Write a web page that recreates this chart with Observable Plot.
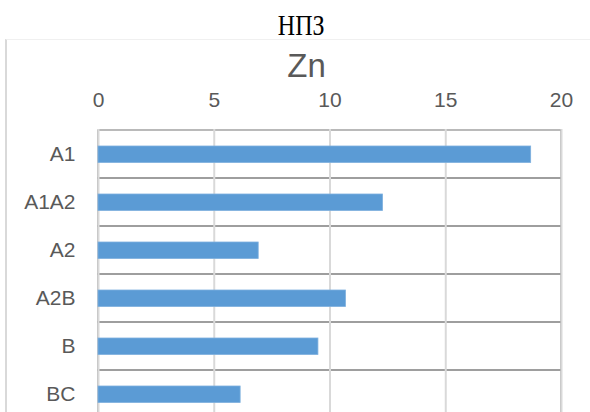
<!DOCTYPE html>
<html>
<head>
<meta charset="utf-8">
<script src="https://cdn.jsdelivr.net/npm/d3@7"></script>
<script src="https://cdn.jsdelivr.net/npm/@observablehq/plot@0.6"></script>
<style>
  html, body { margin: 0; padding: 0; background: #fff; }
  body { width: 590px; height: 412px; overflow: hidden; position: relative; }
  #frame { position: absolute; left: 5px; top: 39px; width: 585px; height: 400px;
           border-left: 2px solid #d9d9d9; border-top: 1px solid #f0f0f0; box-sizing: border-box; }
  #t1 { position: absolute; top: 10px; left: 0; width: 602px; text-align: center;
        font-family: "Liberation Serif", "DejaVu Serif", serif; font-size: 30px; line-height: 30px; color: #000; }
  #t1 span { display: inline-block; transform: scaleX(0.8); }
  #t2 { position: absolute; top: 49px; left: 0; width: 613px; text-align: center;
        font-family: "Liberation Sans", Arial, sans-serif; font-size: 33px; line-height: 33px; color: #595959; }
  #chart { position: absolute; left: 0; top: 0; }
</style>
</head>
<body>
<div id="chart"></div>
<div id="frame"></div>
<div id="t1"><span>НПЗ</span></div>
<div id="t2">Zn</div>
<script>
const categories = ["A1", "A1A2", "A2", "A2B", "B", "BC"];
const values = [18.69, 12.29, 6.92, 10.69, 9.50, 6.14];
const xTicks = [0, 5, 10, 15, 20];

const data = categories.map((c, i) => ({category: c, value: values[i]}));

const plot = Plot.plot({
  width: 590,
  height: 419,
  marginLeft: 98,
  marginRight: 29,
  marginTop: 129,
  marginBottom: 0,
  style: {fontFamily: "'Liberation Sans', Arial, sans-serif", background: "transparent"},
  x: {domain: [0, 20], label: null},
  y: {domain: categories, padding: 0, label: null},
  marks: [
    Plot.barX(categories, {y: d => d, x1: 0, x2: 20, fill: "none", stroke: "#8c8c8c", strokeWidth: 1.2}),
    Plot.gridX(xTicks, {stroke: "#d9d9d9", strokeOpacity: 1, strokeWidth: 2}),
    Plot.barX(data, {y: "category", x: "value", fill: "#5b9bd5", stroke: "#7eb0de", strokeWidth: 0.8, insetTop: 16, insetBottom: 15.5}),
    Plot.axisX(xTicks, {anchor: "top", tickSize: 0, tickPadding: 23, fontSize: 21, fill: "#595959", label: null}),
    Plot.axisY({anchor: "left", tickSize: 0, tickPadding: 23, fontSize: 21, fill: "#595959", label: null})
  ]
});
document.getElementById("chart").appendChild(plot);
</script>
</body>
</html>
